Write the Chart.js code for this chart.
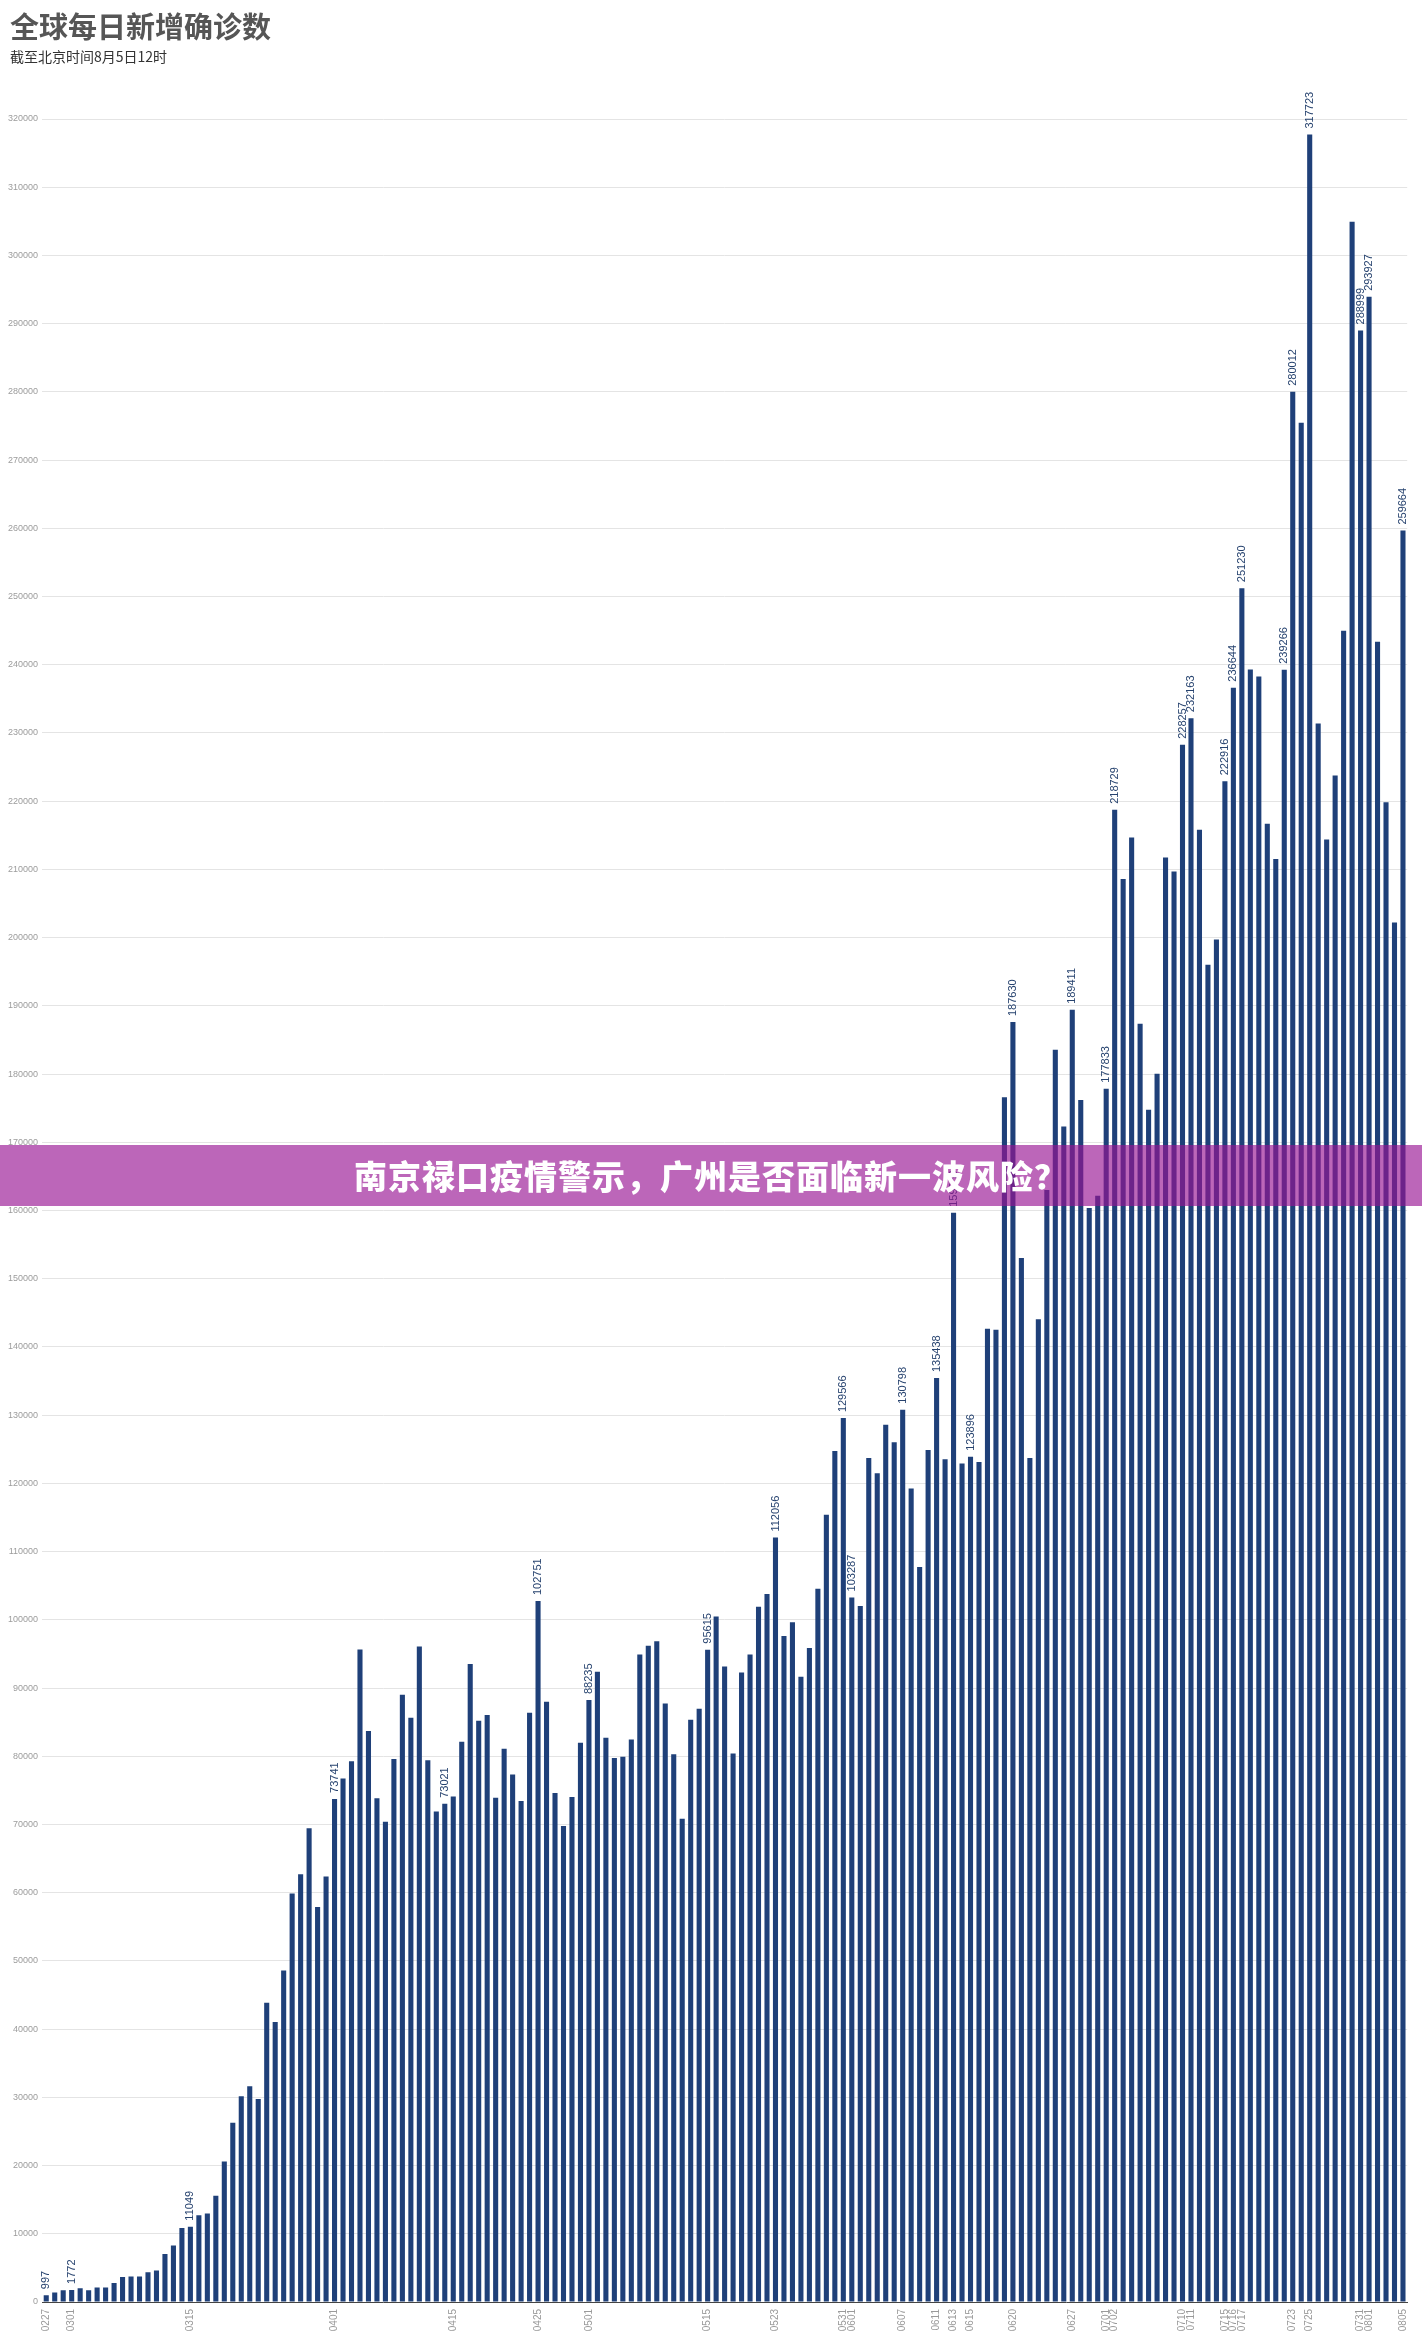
<!DOCTYPE html>
<html>
<head>
<meta charset="utf-8">
<script src="https://cdn.jsdelivr.net/npm/chart.js@4.4.1/dist/chart.umd.min.js"></script>
<style>
  body { margin: 0; background: #fff; }
  #wrap { position: relative; width: 1422px; height: 2352px; background: #fff; overflow: hidden; }
  #c { position: absolute; left: 0; top: 0; }
  .title { position: absolute; left: 10px; top: 10px; font: bold 29px/30px "Noto Sans CJK SC", sans-serif; color: #565656; }
  .sub { position: absolute; left: 10px; top: 48px; font: 14px/16px "Noto Sans CJK SC", sans-serif; color: #333; }
  .banner { position: absolute; left: 0; top: 1145px; width: 1422px; height: 61px; background: rgba(152, 20, 148, 0.65);
            color: #fff; text-align: center; font: 900 33px/61px "Noto Sans CJK SC", sans-serif; letter-spacing: 1px; }
</style>
</head>
<body>
<div id="wrap">
  <canvas id="c" width="1422" height="2352"></canvas>
  <div class="title">全球每日新增确诊数</div>
  <div class="sub">截至北京时间8月5日12时</div>
  <div class="banner">南京禄口疫情警示，广州是否面临新一波风险？</div>
</div>
<script>
// ── data ──────────────────────────────────────────────────
const dates = [
  '0227', '0228', '0229',
  '0301', '0302', '0303', '0304', '0305', '0306', '0307', '0308', '0309', '0310',
  '0311', '0312', '0313', '0314', '0315', '0316', '0317', '0318', '0319', '0320',
  '0321', '0322', '0323', '0324', '0325', '0326', '0327', '0328', '0329', '0330', '0331',
  '0401', '0402', '0403', '0404', '0405', '0406', '0407', '0408', '0409', '0410',
  '0411', '0412', '0413', '0414', '0415', '0416', '0417', '0418', '0419', '0420',
  '0421', '0422', '0423', '0424', '0425', '0426', '0427', '0428', '0429', '0430',
  '0501', '0502', '0503', '0504', '0505', '0506', '0507', '0508', '0509', '0510',
  '0511', '0512', '0513', '0514', '0515', '0516', '0517', '0518', '0519', '0520',
  '0521', '0522', '0523', '0524', '0525', '0526', '0527', '0528', '0529', '0530', '0531',
  '0601', '0602', '0603', '0604', '0605', '0606', '0607', '0608', '0609', '0610',
  '0611', '0612', '0613', '0614', '0615', '0616', '0617', '0618', '0619', '0620',
  '0621', '0622', '0623', '0624', '0625', '0626', '0627', '0628', '0629', '0630',
  '0701', '0702', '0703', '0704', '0705', '0706', '0707', '0708', '0709', '0710',
  '0711', '0712', '0713', '0714', '0715', '0716', '0717', '0718', '0719', '0720',
  '0721', '0722', '0723', '0724', '0725', '0726', '0727', '0728', '0729', '0730', '0731',
  '0801', '0802', '0803', '0804', '0805',
];

const newCases = [
  997, 1400, 1740,
  1772, 2000, 1740, 2140, 2140, 2800, 3680, 3740, 3740, 4350,
  4610, 7020, 8290, 10830, 11049, 12700, 12970, 15570, 20590, 26270,
  30150, 31620, 29750, 43850, 41040, 48600, 59890, 62700, 69450, 57890, 62370,
  73741, 76740, 79280, 95650, 83690, 73860, 70390, 79610, 89020, 85640,
  96080, 79420, 71900, 73021, 74100, 82110, 93530, 85200, 86030, 73930,
  81090, 77310, 73440, 86380, 102751, 88000, 74620, 69770, 74030, 81970,
  88235, 92400, 82700, 79760, 79910, 82460, 94900, 96180, 96860, 87750,
  80300, 70850, 85350, 86970, 95615, 100490, 93140, 80400, 92260, 94900,
  101900, 103800, 112056, 97630, 99660, 91660, 95860, 104540, 115390, 124750, 129566,
  103287, 102030, 123730, 121490, 128610, 126040, 130798, 119260, 107730, 124880,
  135438, 123530, 159659, 122920, 123896, 123120, 142650, 142510, 176610, 187630,
  153020, 123730, 144070, 163000, 183580, 172330, 189411, 176180, 160350, 162170,
  177833, 218729, 208600, 214660, 187390, 174780, 180060, 211730, 209680, 228257,
  232163, 215830, 196040, 199710, 222916, 236644, 251230, 239300, 238290, 216700,
  211510, 239266, 280012, 275470, 317723, 231380, 214370, 223750, 244980, 304940, 288999,
  293927, 243380, 219840, 202200, 259664,
];

// dates printed under the axis
const tickDates = [
  '0227', '0301', '0315', '0401', '0415', '0425', '0501', '0515', '0523', '0531',
  '0601', '0607', '0611', '0613', '0615', '0620', '0627', '0701', '0702', '0710',
  '0711', '0715', '0716', '0717', '0723', '0725', '0731', '0801', '0805',
];

// bars that carry their value on top
const labelDates = [
  '0227', '0301', '0315', '0401', '0414', '0425', '0501', '0515', '0523', '0531',
  '0601', '0607', '0611', '0613', '0615', '0620', '0627', '0701', '0702', '0710',
  '0711', '0715', '0716', '0717', '0722', '0723', '0725', '0731', '0801', '0805',
];

const Y_MAX = 320000;
const Y_STEP = 10000;
const BAR_COLOR = '#1f4079';
const LABEL_COLOR = '#27436f';

// value text above selected bars, rotated
const barValues = {
  id: 'barValues',
  afterDatasetsDraw(chart) {
    const ctx = chart.ctx;
    const meta = chart.getDatasetMeta(0);
    ctx.save();
    ctx.font = '11px "Liberation Sans", Arial, sans-serif';
    ctx.fillStyle = LABEL_COLOR;
    ctx.textAlign = 'left';
    ctx.textBaseline = 'middle';
    labelDates.forEach(d => {
      const i = dates.indexOf(d);
      const bar = meta.data[i];
      if (!bar) return;
      ctx.save();
      ctx.translate(bar.x, bar.y - 6);
      ctx.rotate(-Math.PI / 2);
      ctx.fillText(String(newCases[i]), 0, 0);
      ctx.restore();
    });
    ctx.restore();
  },
};

new Chart(document.getElementById('c'), {
  type: 'bar',
  data: {
    labels: dates,
    datasets: [{
      data: newCases,
      backgroundColor: BAR_COLOR,
      barPercentage: 0.6,
      categoryPercentage: 1.0,
    }],
  },
  options: {
    responsive: false,
    animation: false,
    layout: { padding: { top: 119, right: 8, left: 0, bottom: 0 } },
    plugins: { legend: { display: false }, tooltip: { enabled: false } },
    scales: {
      x: {
        grid: { display: false, drawTicks: false },
        border: { display: true, color: '#444', width: 1 },
        ticks: {
          autoSkip: false, maxRotation: 90, minRotation: 90, padding: 7,
          color: '#9a9a9a', font: { size: 10, family: '"Liberation Sans", Arial, sans-serif' },
          callback(v, i) { return tickDates.includes(dates[i]) ? dates[i] : ''; },
        },
        afterFit(s) { s.height = 50; },
      },
      y: {
        min: 0, max: Y_MAX,
        grid: { color: '#e4e4e4', drawTicks: false },
        border: { display: false },
        ticks: {
          stepSize: Y_STEP, padding: 4,
          color: '#9c9c9c', font: { size: 9, family: '"Liberation Sans", Arial, sans-serif' },
          callback(v) { return String(v); },
        },
        afterFit(s) { s.width = 42; },
      },
    },
  },
  plugins: [barValues],
});
</script>
</body>
</html>
